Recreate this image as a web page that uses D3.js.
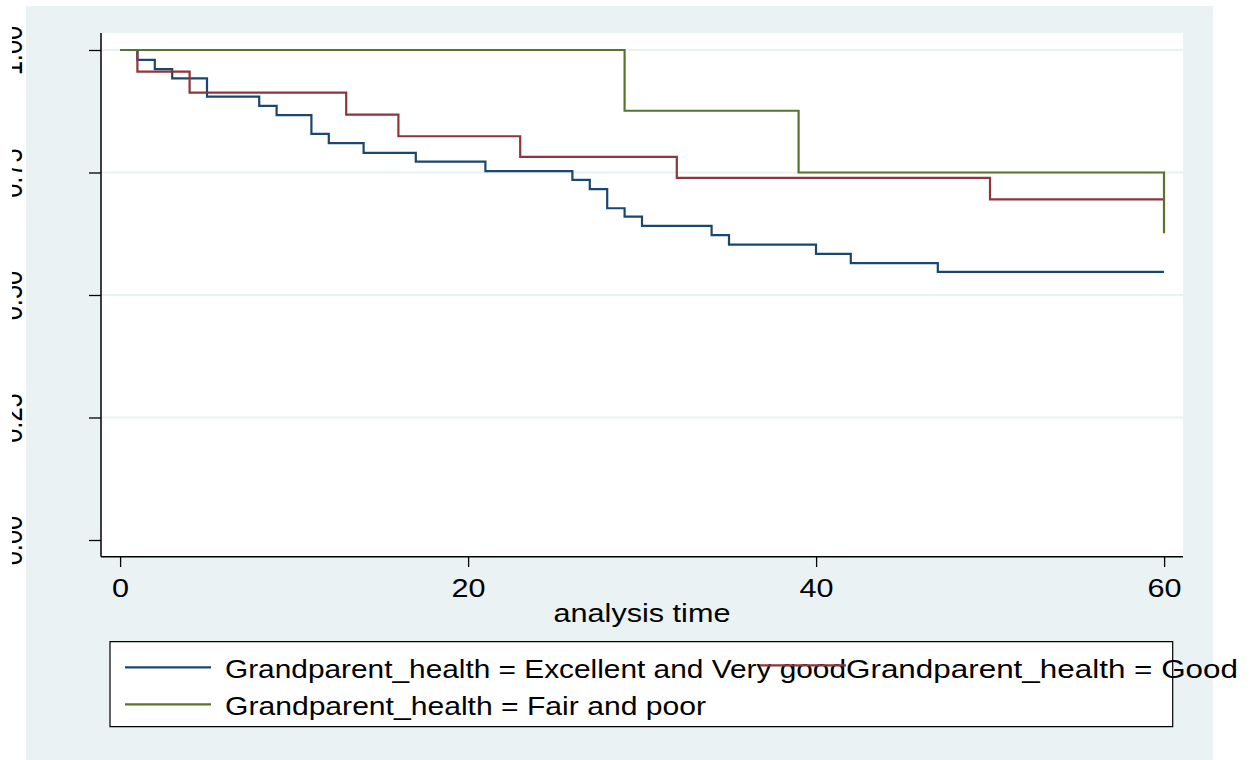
<!DOCTYPE html>
<html>
<head>
<meta charset="utf-8">
<script src="https://cdn.jsdelivr.net/npm/d3@7"></script>
<style>
  html, body { margin: 0; padding: 0; background: #ffffff; }
  svg { display: block; }
  text { font-family: "Liberation Sans", Arial, Helvetica, sans-serif; fill: #000; }
  .nss { vector-effect: non-scaling-stroke; }
</style>
</head>
<body>
<svg id="chart"></svg>
<script>
// Kaplan-Meier survival estimates by grandparent health
const groupNames = [
  "Grandparent_health = Excellent and Very good",
  "Grandparent_health = Good",
  "Grandparent_health = Fair and poor"
];
const groupColors = ["#1a476f", "#90353b", "#55752f"];

// event times and survival after each step
const excellentTimes = [0, 1, 2, 3, 5, 8, 9, 11, 12, 14, 17, 21, 26, 27, 28, 29, 30, 34, 35, 40, 42, 47];
const excellentSurv  = [1, 0.980, 0.961, 0.942, 0.905, 0.886, 0.867, 0.829, 0.810, 0.790, 0.772, 0.753,
                        0.735, 0.716, 0.677, 0.660, 0.641, 0.622, 0.603, 0.584, 0.565, 0.547];
const goodTimes = [0, 1, 4, 13, 16, 23, 32, 50];
const goodSurv  = [1, 0.956, 0.913, 0.868, 0.824, 0.782, 0.739, 0.695];
const fairTimes = [0, 29, 39, 60];
const fairSurv  = [1, 0.876, 0.750, 0.626];
const followUpEnd = 60;

const xTicks = [0, 20, 40, 60];
const yTicks = [0, 0.25, 0.5, 0.75, 1];
const yGrid = [0.25, 0.5, 0.75, 1];
const xTitle = "analysis time";

// page is drawn in a coordinate space that is widened by K on screen
const K = 1.2;
const W = 1250 / K, H = 760;
const px = v => v / K;

const svg = d3.select("#chart")
  .attr("width", 1250).attr("height", 760)
  .attr("viewBox", `0 0 ${W} ${H}`)
  .attr("preserveAspectRatio", "none");

const FONT = 25.5;
const plot = { left: px(101), right: px(1183), top: 33, bottom: 556.7 };

// graph region background
svg.append("rect")
  .attr("x", px(26)).attr("y", 6)
  .attr("width", px(1213) - px(26)).attr("height", H - 6)
  .attr("fill", "#eaf2f3");

// plot region
svg.append("rect")
  .attr("x", plot.left).attr("y", plot.top)
  .attr("width", plot.right - plot.left).attr("height", plot.bottom - plot.top)
  .attr("fill", "#ffffff");

const x = d3.scaleLinear().domain([0, 60]).range([px(120), px(1164)]);
const y = d3.scaleLinear().domain([0, 1]).range([540, 50]);

// grid lines
svg.append("g").selectAll("line").data(yGrid).join("line")
  .attr("class", "nss")
  .attr("x1", plot.left).attr("x2", plot.right)
  .attr("y1", d => y(d)).attr("y2", d => y(d))
  .attr("stroke", "#eaf2f3").attr("stroke-width", 2);

// survival curves
const line = d3.line()
  .x(d => x(d[0])).y(d => y(d[1]))
  .curve(d3.curveStepAfter);

function series(times, surv, extendTo) {
  const pts = times.map((t, i) => [t, surv[i]]);
  if (extendTo != null && pts[pts.length - 1][0] < extendTo) pts.push([extendTo, surv[surv.length - 1]]);
  return pts;
}
const curves = [
  series(excellentTimes, excellentSurv, followUpEnd),
  series(goodTimes, goodSurv, followUpEnd),
  series(fairTimes, fairSurv, followUpEnd)
];
svg.append("g").selectAll("path").data(curves).join("path")
  .attr("class", "nss")
  .attr("d", line)
  .attr("fill", "none")
  .attr("stroke", (d, i) => groupColors[i])
  .attr("stroke-width", 2.2)
  .attr("stroke-linejoin", "miter");

// y axis (labels are rotated and trimmed at the page's left margin)
const defs = svg.append("defs");
defs.append("clipPath").attr("id", "ylabClip")
  .append("rect").attr("x", px(12)).attr("y", 0).attr("width", W).attr("height", H);

const yAxisG = svg.append("g").attr("clip-path", "url(#ylabClip)")
  .append("g").attr("transform", `translate(${plot.left},0)`)
  .call(d3.axisLeft(y).tickValues(yTicks).tickSize(px(12)).tickSizeOuter(0).tickFormat(d3.format(".2f")));
yAxisG.select(".domain").remove();
yAxisG.selectAll(".tick line").attr("class", "nss").attr("stroke", "#000").attr("stroke-width", 1.3);
yAxisG.selectAll(".tick text")
  .attr("x", null).attr("dy", null)
  .attr("transform", `translate(${px(21.7) - plot.left},0) rotate(-90)`)
  .attr("text-anchor", "middle")
  .style("font-size", FONT + "px")
  .style("font-family", '"Liberation Sans", Arial, sans-serif')
  .attr("fill", "#000");

// x axis
const xAxisG = svg.append("g").attr("transform", `translate(0,${plot.bottom})`)
  .call(d3.axisBottom(x).tickValues(xTicks).tickSize(10.3).tickSizeOuter(0).tickFormat(d3.format("d")));
xAxisG.select(".domain").remove();
xAxisG.selectAll(".tick line").attr("class", "nss").attr("stroke", "#000").attr("stroke-width", 1.3);
xAxisG.selectAll(".tick text")
  .attr("y", 597 - plot.bottom).attr("dy", null)
  .style("font-size", FONT + "px")
  .style("font-family", '"Liberation Sans", Arial, sans-serif')
  .attr("fill", "#000");

// axis lines
svg.append("line").attr("class", "nss")
  .attr("x1", plot.left).attr("x2", plot.left)
  .attr("y1", plot.top).attr("y2", plot.bottom)
  .attr("stroke", "#000").attr("stroke-width", 1.5);
svg.append("line").attr("class", "nss")
  .attr("x1", plot.left).attr("x2", plot.right)
  .attr("y1", plot.bottom).attr("y2", plot.bottom)
  .attr("stroke", "#000").attr("stroke-width", 1.5);

// x axis title
svg.append("text")
  .attr("x", (plot.left + plot.right) / 2).attr("y", 621.7)
  .attr("text-anchor", "middle")
  .style("font-size", FONT + "px")
  .text(xTitle);

// legend
const legend = svg.append("g");
const box = { x0: px(110), x1: px(1172.7), y0: 641.7, y1: 726.7 };
legend.append("rect")
  .attr("x", box.x0).attr("y", box.y0)
  .attr("width", box.x1 - box.x0).attr("height", box.y1 - box.y0)
  .attr("fill", "#ffffff");

const keys = [
  { key: [px(125), px(211)], ky: 667.3, tx: px(225), ty: 678.3, len: px(621) },
  { key: [px(760), px(846)], ky: 665.3, tx: px(846), ty: 678.3, len: px(392) },
  { key: [px(125), px(211)], ky: 704.3, tx: px(225), ty: 715.3, len: px(481) }
];
keys.forEach((k, i) => {
  legend.append("line").attr("class", "nss")
    .attr("x1", k.key[0]).attr("x2", k.key[1])
    .attr("y1", k.ky).attr("y2", k.ky)
    .attr("stroke", groupColors[i]).attr("stroke-width", 2.2);
  legend.append("text")
    .attr("x", k.tx).attr("y", k.ty)
    .attr("textLength", k.len).attr("lengthAdjust", "spacingAndGlyphs")
    .style("font-size", FONT + "px")
    .text(groupNames[i]);
});
legend.append("rect").attr("class", "nss")
  .attr("x", box.x0).attr("y", box.y0)
  .attr("width", box.x1 - box.x0).attr("height", box.y1 - box.y0)
  .attr("fill", "none").attr("stroke", "#000").attr("stroke-width", 1.2);
</script>
</body>
</html>
